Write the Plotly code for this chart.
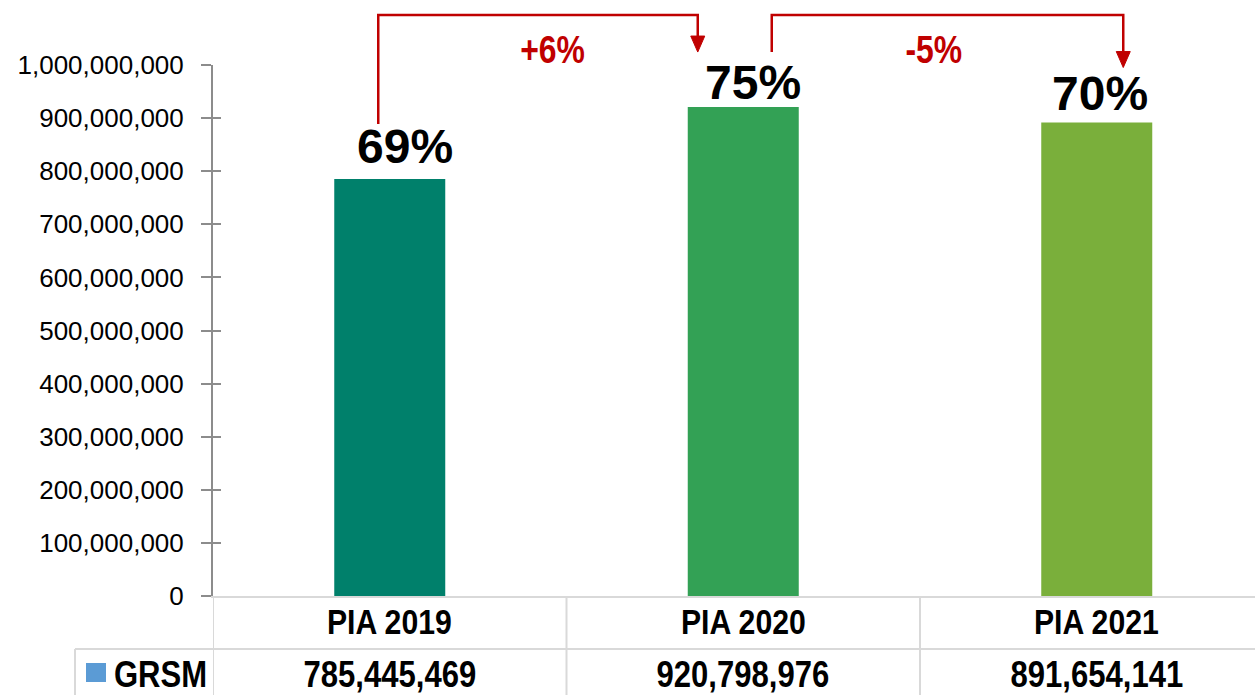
import plotly.graph_objects as go

# ---- data ----
categories = ["PIA 2019", "PIA 2020", "PIA 2021"]
grsm_values = [785445469, 920798976, 891654141]
share_pct = [69, 75, 70]
series_name = "GRSM"
y_ticks = [0, 100000000, 200000000, 300000000, 400000000, 500000000,
           600000000, 700000000, 800000000, 900000000, 1000000000]

# ---- style ----
bar_colors = ["#00806B", "#33A155", "#7AAF3B"]
legend_color = "#5B9BD5"
red = "#C00000"
grid_grey = "#D9D9D9"
axis_grey = "#8C8C8C"
NARROW = "Liberation Sans Narrow, Arial Narrow, Liberation Sans, Arial, sans-serif"
ARIAL = "Liberation Sans, Arial, sans-serif"

W, H = 1255, 695
ML, MT, MB = 213, 65, 99
PLOT_H = H - MT - MB
CAT_W = 353.5
Y_MAX = 1e9
x_range = [-0.5, -0.5 + (W - ML) / CAT_W]

# pixel helpers (layout geometry only)
def px_x(cat, dx=0.0):
    return cat + dx / CAT_W

def paper_y(py):
    return (H - MB - py) / PLOT_H

def value_py(v):
    return H - MB - v / Y_MAX * PLOT_H

def paper_x(px):
    return (px - ML) / (W - ML)

fig = go.Figure()
fig.add_trace(go.Bar(
    x=categories, y=grsm_values, width=0.314,
    marker=dict(color=bar_colors, line=dict(width=0)),
    name=series_name, showlegend=False, hoverinfo="skip",
))
# invisible trace to host inner tick marks axis
fig.add_trace(go.Scatter(x=categories, y=grsm_values, yaxis="y2", mode="markers",
                         marker=dict(opacity=0), showlegend=False, hoverinfo="skip"))

shapes = []
annotations = []

# percent labels above bars
label_dx = [15, 9.5, 3]
label_dy = [4, -4, 1]
for i, (v, p) in enumerate(zip(grsm_values, share_pct)):
    annotations.append(dict(
        x=px_x(i, label_dx[i]), xref="x", y=v, yref="y",
        text=f"<b>{p}%</b>", showarrow=False, yanchor="bottom",
        yshift=label_dy[i], font=dict(family=ARIAL, size=48, color="black"),
    ))

# change arrows between consecutive bars
top_py = 15
arrow_start_dx = [-11.5, 28.5]
arrow_end_dx = [-45.5, 26.5]
gap_above = 55
head_w, head_h = 7, 16
text_dx = [14, -14]
for i in range(len(grsm_values) - 1):
    x0 = px_x(i, arrow_start_dx[i])
    x1 = px_x(i + 1, arrow_end_dx[i])
    y0 = paper_y(value_py(grsm_values[i]) - gap_above)
    ytip_px = value_py(grsm_values[i + 1]) - gap_above
    ytop = paper_y(top_py)
    yhead = paper_y(ytip_px - head_h)
    shapes.append(dict(type="path", xref="x", yref="paper",
                       path=f"M {x0} {y0} L {x0} {ytop} L {x1} {ytop} L {x1} {yhead}",
                       line=dict(color=red, width=2.5)))
    hx0 = px_x(i + 1, arrow_end_dx[i] - head_w)
    hx1 = px_x(i + 1, arrow_end_dx[i] + head_w)
    shapes.append(dict(type="path", xref="x", yref="paper",
                       path=f"M {hx0} {yhead} L {hx1} {yhead} L {x1} {paper_y(ytip_px)} Z",
                       fillcolor=red, line=dict(color=red, width=1)))
    change = share_pct[i + 1] - share_pct[i]
    annotations.append(dict(
        x=(x0 + x1) / 2 + text_dx[i] / CAT_W, xref="x", y=paper_y(50), yref="paper",
        text=f"<b>{change:+d}%</b>", showarrow=False, yanchor="middle",
        font=dict(family=NARROW, size=38, color=red),
    ))

# data table below the axis
row_line_py = 649
table_left_px = 75
bottom_py = H + 5
shapes.append(dict(type="line", xref="paper", yref="paper",
                   x0=paper_x(table_left_px), x1=1, y0=paper_y(row_line_py), y1=paper_y(row_line_py),
                   line=dict(color=grid_grey, width=2)))
shapes.append(dict(type="line", xref="paper", yref="paper",
                   x0=paper_x(table_left_px), x1=paper_x(table_left_px),
                   y0=paper_y(row_line_py), y1=paper_y(bottom_py),
                   line=dict(color=grid_grey, width=2)))
for k in range(len(categories)):
    bx = -0.5 + k
    shapes.append(dict(type="line", xref="x", yref="paper",
                       x0=bx, x1=bx, y0=0, y1=paper_y(bottom_py),
                       line=dict(color=grid_grey, width=2)))
for i, (c, v) in enumerate(zip(categories, grsm_values)):
    annotations.append(dict(x=i, xref="x", y=paper_y(621), yref="paper",
                            text=f"<b>{c}</b>", showarrow=False, yanchor="middle",
                            font=dict(family=NARROW, size=36, color="black")))
    annotations.append(dict(x=i, xref="x", y=paper_y(674), yref="paper",
                            text=f"<b>{v:,}</b>", showarrow=False, yanchor="middle",
                            font=dict(family=NARROW, size=37, color="black")))
# legend key in table
shapes.append(dict(type="rect", xref="paper", yref="paper",
                   x0=paper_x(86), x1=paper_x(106), y0=paper_y(682), y1=paper_y(663),
                   fillcolor=legend_color, line=dict(width=0)))
annotations.append(dict(x=paper_x(160), xref="paper", y=paper_y(674), yref="paper",
                        text=f"<b>{series_name}</b>", showarrow=False,
                        xanchor="center", yanchor="middle",
                        font=dict(family=NARROW, size=37, color="black")))

fig.update_layout(
    width=W, height=H,
    margin=dict(l=ML, r=0, t=MT, b=MB, pad=0),
    plot_bgcolor="white", paper_bgcolor="white",
    showlegend=False,
    xaxis=dict(range=x_range, showticklabels=False, ticks="", showgrid=False,
               zeroline=False, showline=True, linecolor=grid_grey, linewidth=2,
               fixedrange=True, automargin=False),
    yaxis=dict(range=[0, Y_MAX], tickvals=y_ticks, tickformat=",d",
               ticks="outside", ticklen=10, tickwidth=2, tickcolor=axis_grey,
               showline=True, linecolor=axis_grey, linewidth=2,
               showgrid=False, zeroline=False, ticklabelstandoff=12,
               automargin=False,
               tickfont=dict(family=ARIAL, size=26, color="black")),
    yaxis2=dict(range=[0, Y_MAX], tickvals=y_ticks, overlaying="y", side="left",
                ticks="inside", ticklen=8, tickwidth=2, tickcolor=axis_grey,
                showticklabels=False, showline=False, showgrid=False, zeroline=False,
                automargin=False),
    shapes=shapes,
    annotations=annotations,
)

# remove default page margin; emulate the narrow bold face by horizontal condensing
post = """
document.body.style.margin = '0';
function condense() {
  document.querySelectorAll('text.annotation-text').forEach(function (el) {
    if ((el.style.fontFamily || '').indexOf('Narrow') >= 0) {
      el.style.transformBox = 'fill-box';
      el.style.transformOrigin = 'center';
      el.style.transform = 'scaleX(0.84)';
    }
  });
}
condense();
var gd = document.getElementsByClassName('plotly-graph-div')[0];
if (gd && gd.on) { gd.on('plotly_afterplot', condense); }
"""
fig.write_html("out.html", post_script=post, config={"displayModeBar": False})
